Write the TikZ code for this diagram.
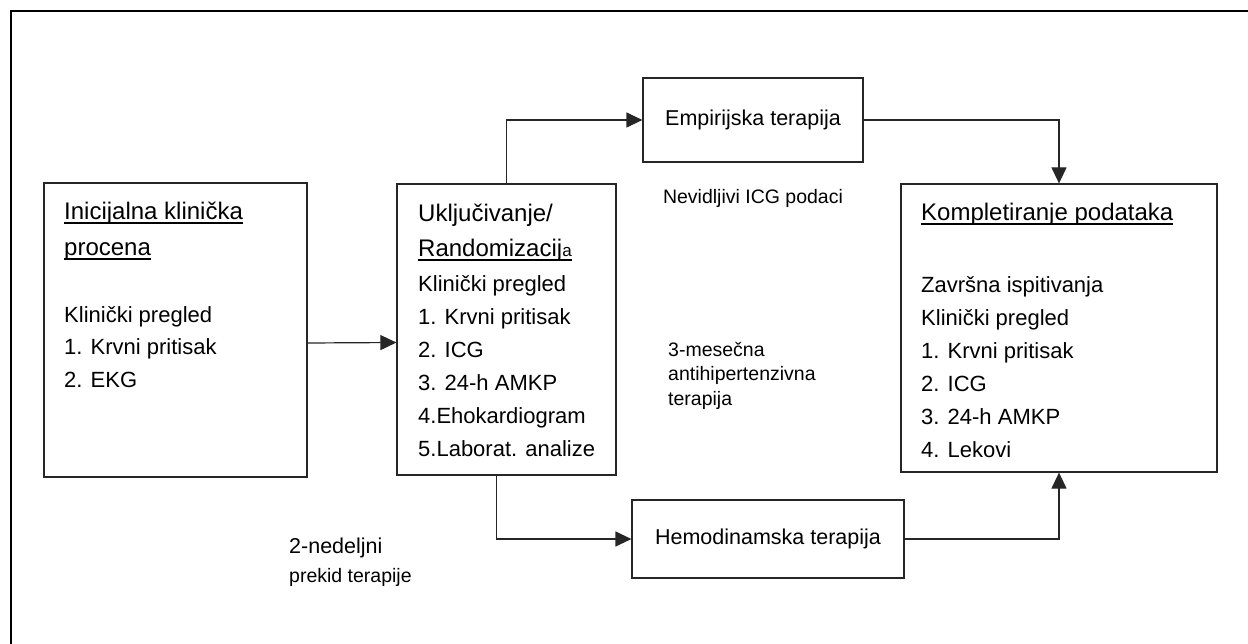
\documentclass[tikz,border=0pt]{standalone}
\usepackage{fontspec}
\setmainfont{Liberation Sans}
\usetikzlibrary{arrows.meta}

\newcommand\podvuci[1]{\leavevmode\setbox0\hbox{#1}\rlap{\rule[-4pt]{\wd0}{1.8pt}}\box0}

\begin{document}
\begin{tikzpicture}[x=1pt, y=-1pt,
  kutija/.style={draw=black!85, line width=1.2pt, inner sep=0pt},
  tekst/.style={anchor=base west, align=left, inner sep=0pt},
  veza/.style={draw=black!85, line width=1.2pt, -{Triangle[length=16pt,width=15pt]}}]

\def\naslov{\fontsize{24}{36}\selectfont}
\def\stavka{\fontsize{22}{33}\selectfont}
\def\napomena{\fontsize{19.5}{24.5}\selectfont}

\useasboundingbox (0,0) rectangle (1248,644);
\draw[line width=2.5pt] (1248,11) -- (11,11) -- (11,644);

% kutije
\node[kutija, minimum width=263pt, minimum height=294pt] (init) at (175.5,330) {};
\node[kutija, minimum width=219pt, minimum height=291pt] (ukl) at (506.5,329.5) {};
\node[kutija, minimum width=316pt, minimum height=288pt] (kompl) at (1059,328) {};
\node[kutija, minimum width=220pt, minimum height=84pt, font=\fontsize{21.5}{26}\selectfont] (emp) at (753,120) {Empirijska terapija};
\node[kutija, minimum width=272pt, minimum height=78pt, font=\fontsize{21.5}{26}\selectfont] (hemo) at (768,539) {Hemodinamska terapija};

% tekst u kutijama (base = zadnji red)
\node[tekst, font=\naslov] (initnaslov) at (64,256) {\podvuci{Inicijalna klinička}\\\podvuci{procena}};
\node[tekst, font=\stavka] (initstavke) at (64,388) {Klinički pregled\\1. Krvni pritisak\\2. EKG};
\node[tekst, font=\fontsize{24}{35}\selectfont] (uklnaslov) at (418,257) {Uključivanje/\\\podvuci{Randomizacij{\fontsize{17}{17}\selectfont a}}};
\node[tekst, font=\stavka] (uklstavke) at (418,456) {Klinički pregled\\1. Krvni pritisak\\2. ICG\\3. 24-h AMKP\\4.Ehokardiogram\\5.Laborat. analize};
\node[tekst, font=\naslov] (komplnaslov) at (921,221) {\podvuci{Kompletiranje podataka}};
\node[tekst, font=\stavka] (komplstavke) at (921,457) {Završna ispitivanja\\Klinički pregled\\1. Krvni pritisak\\2. ICG\\3. 24-h AMKP\\4. Lekovi};

% napomene
\node[tekst, anchor=base, font=\napomena] (nevidljivi) at (753,204) {Nevidljivi ICG podaci};
\node[tekst, font=\napomena] (mesecna) at (668,405) {3-mesečna\\antihipertenzivna\\terapija};
\node[tekst, font=\fontsize{21.5}{29}\selectfont] (prekid) at (289,582) {2-nedeljni\\{\fontsize{19.5}{29}\selectfont prekid terapije}};

% veze
\draw[veza] ([yshift=-13pt]init.east) -- ([yshift=-13pt]ukl.west);
\draw[veza] (ukl.north) |- (emp.west);
\draw[veza] (emp.east) -| (kompl.north);
\draw[veza] ([xshift=-10pt]ukl.south) |- (hemo.west);
\draw[veza] (hemo.east) -| (kompl.south);
\end{tikzpicture}
\end{document}
